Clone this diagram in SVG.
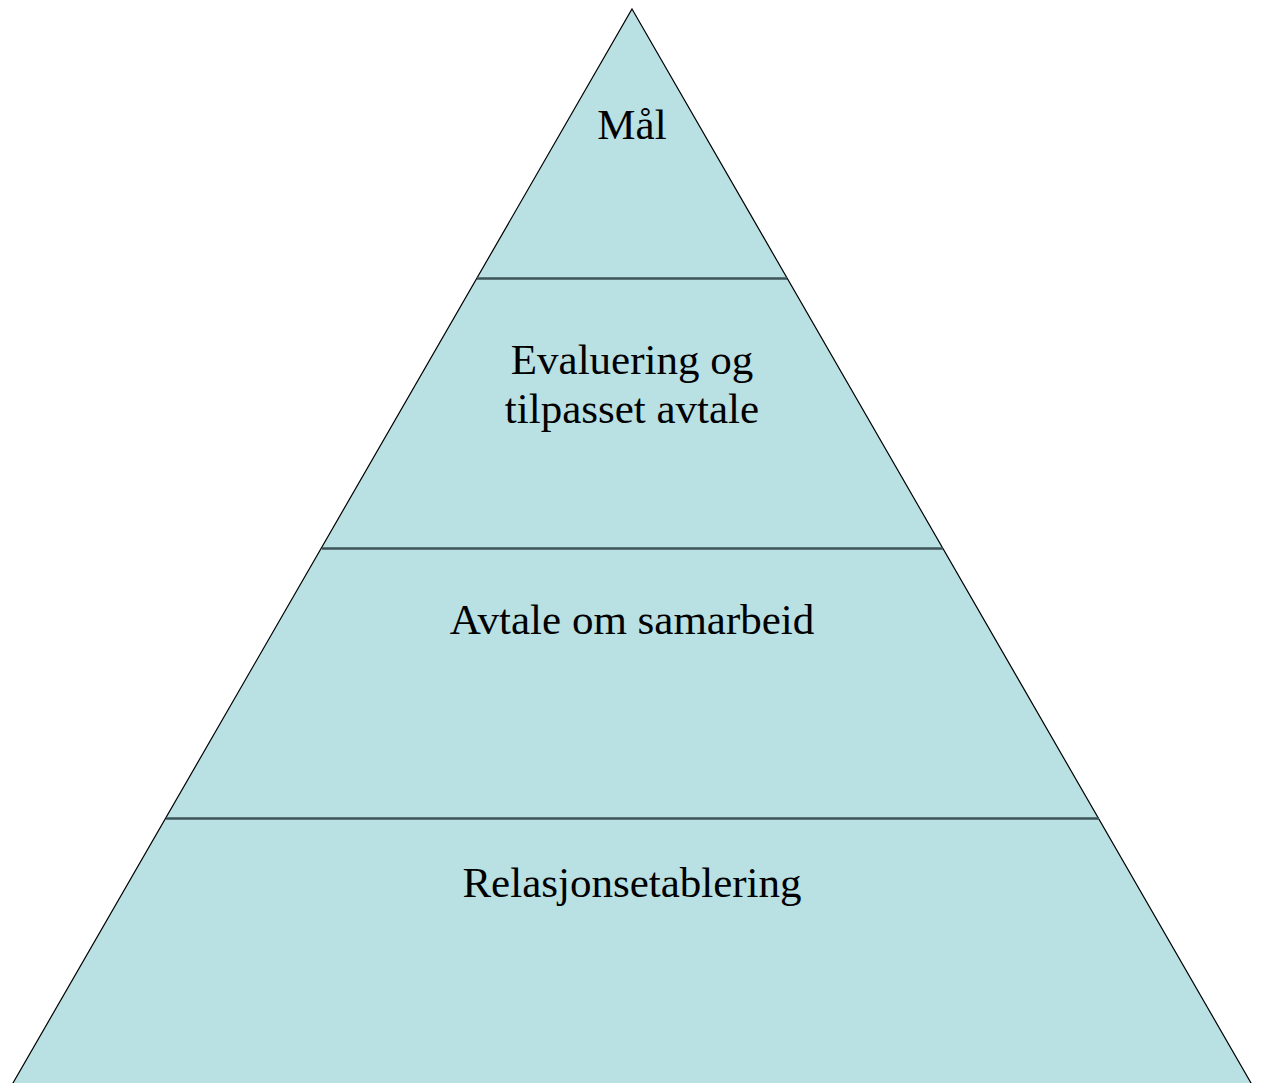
<svg xmlns="http://www.w3.org/2000/svg" width="1261" height="1083" viewBox="0 0 1261 1083">
<style>
.t{font-family:"Liberation Serif","Times New Roman",serif;font-size:43px;fill:#000;text-anchor:middle}
.sep{stroke:#3d5558;stroke-width:2.5}
</style>
<rect width="1261" height="1083" fill="#fff"/>
<g id="pyramid">
<polygon points="632,9 1260.8,1100 3.2,1100" fill="#b9e0e3" stroke="#000" stroke-width="1.2"/>
</g>
<g id="connectors">
<line class="sep" x1="477" y1="278.5" x2="787" y2="278.5"/>
<line class="sep" x1="322" y1="548.5" x2="943" y2="548.5"/>
<line class="sep" x1="166" y1="818.5" x2="1099" y2="818.5"/>
</g>
<g id="level-mal"><text class="t" x="632" y="139">Mål</text></g>
<g id="level-evaluering"><text class="t" x="632" y="374">Evaluering og</text><text class="t" x="632" y="423">tilpasset avtale</text></g>
<g id="level-avtale"><text class="t" x="632" y="634">Avtale om samarbeid</text></g>
<g id="level-relasjon"><text class="t" x="632" y="897">Relasjonsetablering</text></g>
</svg>
